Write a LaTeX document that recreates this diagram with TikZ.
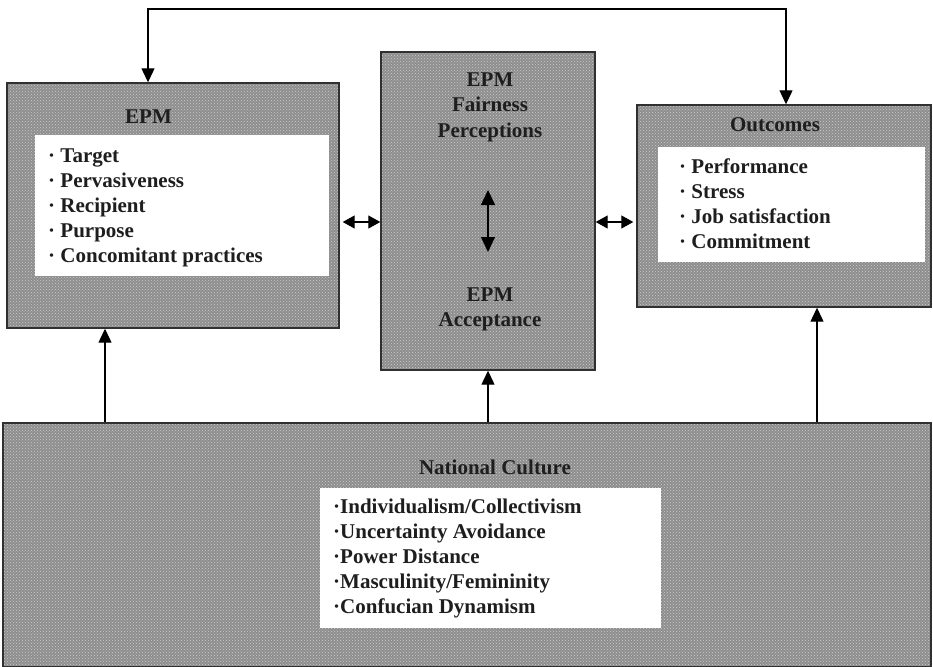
\documentclass[tikz,border=0pt]{standalone}
\usepackage{fontspec}
\setmainfont{Liberation Serif}
\usetikzlibrary{arrows.meta,patterns}
\definecolor{boxgray}{HTML}{8E8E8E}
\definecolor{dotgray}{HTML}{CCCCCC}
\definecolor{edgegray}{HTML}{303030}
\definecolor{inkcol}{HTML}{1E1E1E}
\tikzset{
  shaded/.style={draw=edgegray, line width=1.4pt, rectangle, inner sep=0pt,
    preaction={fill=boxgray}, pattern=crosshatch dots, pattern color=dotgray},
  whitebox/.style={fill=white, draw=none, rectangle, inner sep=0pt},
  txt/.style={font=\fontsize{21}{25}\selectfont\bfseries, inner sep=0pt, text=inkcol},
  item/.style={txt, anchor=base west},
  title/.style={txt, anchor=base},
  conn/.style={line width=1.2pt, draw=black},
  tip/.style={conn, -{Triangle[width=13pt,length=14pt]}},
  dbl/.style={conn, {Triangle[width=13pt,length=12pt]}-{Triangle[width=13pt,length=12pt]}},
}
\begin{document}
\begin{tikzpicture}[x=1pt,y=-1pt]
\useasboundingbox (0,0) rectangle (933,666);
% boxes
\node[shaded, minimum width=332pt, minimum height=245pt] (epm) at (173,205.5) {};
\node[shaded, minimum width=214pt, minimum height=318pt] (mid) at (488,211) {};
\node[shaded, minimum width=294pt, minimum height=202pt] (out) at (784,206) {};
\node[shaded, minimum width=928pt, minimum height=244pt] (nat) at (467,545) {};
% white inner boxes
\node[whitebox, minimum width=294pt, minimum height=141pt] (epmw) at (182,205.5) {};
\node[whitebox, minimum width=267pt, minimum height=115pt] (outw) at (791.5,204.5) {};
\node[whitebox, minimum width=341pt, minimum height=140pt] (natw) at (490.5,558) {};
% EPM texts
\node[title] (t1) at (148.5,123) {EPM};
\node[item] (e1) at (48,162.5) {· Target};
\node[item] (e2) at (48,187.5) {· Pervasiveness};
\node[item] (e3) at (48,212) {· Recipient};
\node[item] (e4) at (48,237) {· Purpose};
\node[item] (e5) at (48,262) {· Concomitant practices};
% middle texts
\node[title] (m1) at (490,87) {EPM};
\node[title] (m2) at (490,112) {Fairness};
\node[title] (m3) at (490,137) {Perceptions};
\node[title] (m4) at (490,301) {EPM};
\node[title] (m5) at (490,326) {Acceptance};
% outcomes texts
\node[title] (t2) at (775,131) {Outcomes};
\node[item] (o1) at (679,173) {· Performance};
\node[item] (o2) at (679,198) {· Stress};
\node[item] (o3) at (679,223) {· Job satisfaction};
\node[item] (o4) at (679,248) {· Commitment};
% national culture texts
\node[title] (t3) at (495,474) {National Culture};
\node[item] (n1) at (333,513) {·Individualism/Collectivism};
\node[item] (n2) at (333,538) {·Uncertainty Avoidance};
\node[item] (n3) at (333,563) {·Power Distance};
\node[item] (n4) at (333,588) {·Masculinity/Femininity};
\node[item] (n5) at (333,613) {·Confucian Dynamism};
% connectors
\coordinate (tl) at (148,9);
\coordinate (tr) at (786,9);
\draw[conn, {Triangle[width=13pt,length=14pt]}-{Triangle[width=13pt,length=14pt]}]
  (tl |- epm.north) -- (tl) -- (tr) -- (tr |- out.north);
\coordinate (hy) at (0,222);
\draw[dbl, shorten <=3pt] (epm.east |- hy) -- (mid.west |- hy);
\draw[dbl, shorten >=3pt] (mid.east |- hy) -- (out.west |- hy);
\coordinate (va) at (488,190);
\coordinate (vb) at (488,252);
\draw[conn, {Triangle[width=14pt,length=15pt]}-{Triangle[width=14pt,length=15pt]}] (va) -- (vb);
\coordinate (ua) at (105,0);
\coordinate (ub) at (488,0);
\coordinate (uc) at (817,0);
\draw[tip] (nat.north -| ua) -- (epm.south -| ua);
\draw[tip] (nat.north -| ub) -- (mid.south -| ub);
\draw[tip] (nat.north -| uc) -- (out.south -| uc);
\end{tikzpicture}
\end{document}
